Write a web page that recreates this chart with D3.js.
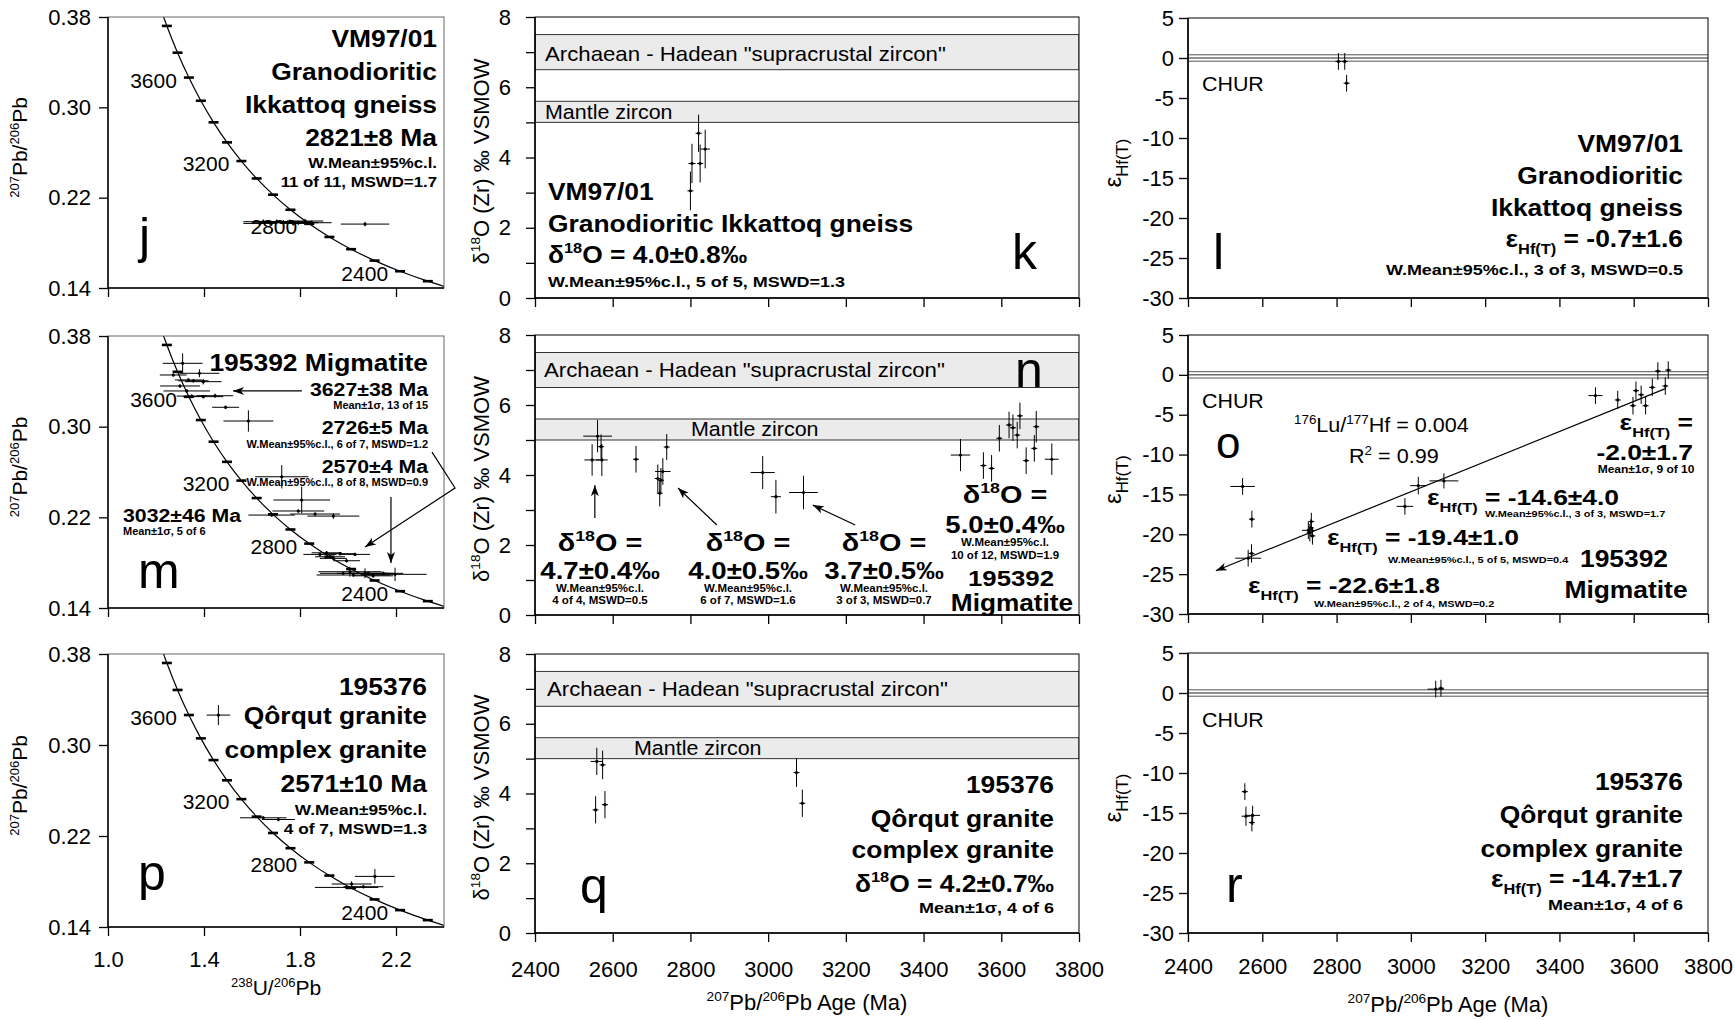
<!DOCTYPE html>
<html><head><meta charset="utf-8">
<script src="https://cdn.jsdelivr.net/npm/d3@7"></script>
<style>body{margin:0;background:#fff}svg{display:block;font-family:"Liberation Sans",Arial,sans-serif}</style>
</head><body><script>
// ================= DATA =================
const concordiaCurveAges = [2000,2100,2200,2300,2400,2500,2600,2700,2800,2900,3000,3100,3200,3300,3400,3500,3600,3700,3800,3900,4000];
const concordiaTickAges = [2300,2400,2500,2600,2700,2800,2900,3000,3100,3200,3300,3400,3500,3600,3700,3800];
const concordiaLabelAges = [2400,2800,3200,3600];
const uPbXTicks = [1.0,1.4,1.8,2.2];
const uPbYTicks = [0.38,0.30,0.22,0.14];
const ageTicks = [2400,2600,2800,3000,3200,3400,3600,3800];
const d18OTicks = [0,1,2,3,4,5,6,7,8];
const epsTicks = [5,0,-5,-10,-15,-20,-25,-30];
const supracrustalBand = [6.5,7.5];
const mantleBand = [5.0,5.6];
const churLines = [-0.4,0,0.4];

// Tera-Wasserburg points: [238U/206Pb, err, 207Pb/206Pb, err]
const jData = [[1.647,.083,.1987,.002],[1.675,.069,.1978,.002],[1.703,.076,.1987,.002],[1.731,.083,.1981,.002],
  [1.758,.090,.1987,.002],[1.793,.083,.1978,.002],[1.821,.076,.1993,.002],[1.849,.083,.1978,.002],
  [1.772,.056,.1972,.002],[1.633,.069,.1972,.002],[2.071,.101,.1966,.002]];
const mData = [[1.311,.083,.3559,.0088],[1.381,.083,.3471,.0035],[1.272,.056,.3456,.0015],[1.335,.056,.3412,.0015],
  [1.397,.076,.3397,.0024],[1.356,.063,.3405,.0015],[1.300,.083,.3359,.0015],[1.328,.097,.3315,.0015],
  [1.446,.076,.3273,.0018],[1.397,.083,.3265,.0015],[1.349,.063,.3270,.0015],[1.490,.056,.3171,.0015],
  [1.585,.104,.3050,.0094],[1.724,.111,.2558,.0103],[1.807,.118,.2353,.0118],[1.793,.108,.2256,.0015],
  [1.863,.104,.2229,.0015],[1.939,.108,.2211,.0024],[1.682,.097,.2220,.0015],[1.911,.0625,.1887,.0015],
  [2.029,.0625,.1873,.0015],[1.925,.0625,.1852,.0015],[1.883,.069,.1873,.0015],[1.967,.0625,.1879,.0015],
  [1.939,.056,.1838,.0015],[1.994,.056,.1817,.0015],[2.008,.132,.1720,.0044],[2.071,.118,.1706,.0044],
  [2.147,.083,.1706,.0015],[2.196,.132,.1697,.0059],[2.022,.153,.1691,.0015],[2.085,.083,.1706,.0015],
  [1.980,.097,.1706,.0015],[2.105,.083,.1684,.0015]];
const pData = [[1.46,.049,.3263,.0088],[1.647,.097,.2360,.0015],[1.71,.069,.2345,.0015],[2.112,.083,.1845,.0065],
  [1.994,.132,.1748,.0015],[2.015,.083,.1778,.0024],[2.064,.083,.1754,.0015]];

// oxygen points: [age, ageErr, d18O, err]
const kData = [[2800,4,3.05,.55],[2804,9,3.83,.56],[2825,8,3.83,.54],[2821,6,4.69,.53],[2838,12,4.24,.55]];
const nData = [[2547,20,4.43,.45],[2561,37,5.11,.46],[2570,4,4.81,.35],[2572,15,4.43,.46],[2660,4,4.45,.38],
  [2716,4,3.9,.4],[2721,4,3.48,.38],[2729,20,4.1,.38],[2739,5,4.8,.37],[2724,4,3.85,.35],
  [2986,31,4.07,.47],[3020,13,3.38,.48],[3091,37,3.5,.48],
  [3495,25,4.57,.46],[3554,4,4.27,.38],[3575,4,4.19,.38],[3595,4,5.05,.38],[3620,4,5.43,.38],[3630,4,5.35,.38],
  [3641,4,5.14,.38],[3648,4,5.69,.38],[3664,4,4.41,.38],[3685,4,4.76,.38],[3690,4,5.38,.45],[3730,18,4.45,.45]];
const qData = [[2559,16,4.92,.39],[2574,4,4.82,.41],[2556,4,3.53,.39],[2580,8,3.68,.39],[3073,4,4.6,.41],[3088,4,3.72,.39]];

// hafnium points: [age, ageErr, epsHf, err]
const lData = [[2805,4,-0.43,1.05],[2822,4,-0.43,1.05],[2827,8,-3.15,1.05]];
const oData = [[2547,33,-14.0,1.05],[2572,3,-18.1,1.05],[2562,35,-23.0,1.05],[2571,3,-22.4,1.15],
  [2724,17,-19.5,1.1],[2732,3,-18.4,1.1],[2735,3,-20.2,1.1],[2728,3,-19.8,1.1],[2731,3,-19.2,1.1],
  [2984,22,-16.5,1.05],[3020,22,-13.9,1.1],[3089,39,-13.3,.95],
  [3497,19,-2.6,1.05],[3557,3,-3.15,1.15],[3598,3,-3.87,1.1],[3606,3,-1.98,1.15],[3620,3,-2.5,1.15],
  [3632,3,-3.87,1.1],[3650,3,-1.57,1.1],[3665,3,0.48,1.1],[3685,3,-1.4,1.1],[3693,3,0.6,1.1]];
const rData = [[2553,4,-12.33,1.05],[2556,12,-15.4,1.2],[2574,20,-15.3,1.2],[2572,4,-16.2,1.1],[3067,22,0.48,1.05],[3081,4,0.6,1.05]];
const oRegression = [[3687,-1.69],[2475,-24.57]];

// annotation arrows (data units)
const mArrows = [[[1.808,.3315],[1.521,.3315]],[[2.35,.2776],[2.446,.2459],[2.071,.1938]],[[2.179,.238],[2.179,.1797]]];
const nArrows = [[[2554,2.77],[2554,3.71]],[[2868,2.57],[2768,3.63]],[[3224,2.57],[3115,3.14]]];

// ================= DRAW =================
const W=1735,H=1020;
const svg=d3.select('body').append('svg').attr('width',W).attr('height',H);
svg.append('rect').attr('width',W).attr('height',H).attr('fill','#fff');
const defs=svg.append('defs');
defs.append('marker').attr('id','arr').attr('markerUnits','userSpaceOnUse')
  .attr('markerWidth',12).attr('markerHeight',10).attr('refX',11).attr('refY',4).attr('orient','auto')
  .append('path').attr('d','M0,0 L11,4 L0,8 L3,4 Z').attr('fill','#000');

const L238=1.55125e-10,L235=9.8485e-10,U85=137.88;
function conc(t){const a=Math.exp(L238*t*1e6)-1,b=Math.exp(L235*t*1e6)-1;return [1/a,b/a/U85];}

function rich(g,x,y,str,o={}){
  const size=o.size||20;
  let tr=`translate(${x},${y})`; if(o.rot) tr+=` rotate(${o.rot})`; if(o.sx) tr+=` scale(${o.sx},1)`;
  const t=g.append('text').attr('transform',tr).attr('font-size',size)
    .attr('font-weight',o.bold?'bold':'normal').attr('text-anchor',o.anchor||'start').attr('fill','#000');
  const parts=str.split(/(\^\{[^}]*\}|_\{[^}]*\})/).filter(s=>s.length);
  let shift=0;
  parts.forEach(p=>{
    let k=null,s=p;
    if(p.startsWith('^{')){k='sup';s=p.slice(2,-1);} else if(p.startsWith('_{')){k='sub';s=p.slice(2,-1);}
    const target=k==='sup'?-0.4*size:k==='sub'?0.3*size:0;
    const ts=t.append('tspan').text(s).attr('dy',target-shift);
    if(k) ts.attr('font-size',size*(o.small||0.62));
    shift=target;
  });
  return t;
}

let clipN=0;
function panel(x0,x1,y0,y1,xDom,yDom){
  const g=svg.append('g');
  const x=d3.scaleLinear().domain(xDom).range([x0,x1]);
  const y=d3.scaleLinear().domain(yDom).range([y1,y0]);
  const id='c'+(clipN++);
  defs.append('clipPath').attr('id',id).append('rect').attr('x',x0).attr('y',y0).attr('width',x1-x0).attr('height',y1-y0);
  const inner=g.append('g').attr('clip-path',`url(#${id})`);
  return {g,inner,x,y,x0,x1,y0,y1};
}
function crosses(P,data,minH=3){
  const gg=P.inner.append('g').attr('stroke','#000').attr('stroke-width',1);
  data.forEach(d=>{
    const cx=P.x(d[0]),cy=P.y(d[2]);
    const hx=Math.max(Math.abs(P.x(d[0]+d[1])-cx),minH), hy=Math.max(Math.abs(P.y(d[2]+d[3])-cy),1.5);
    gg.append('line').attr('x1',cx-hx).attr('x2',cx+hx).attr('y1',cy).attr('y2',cy);
    gg.append('line').attr('x1',cx).attr('x2',cx).attr('y1',cy-hy).attr('y2',cy+hy);
    P.inner.append('circle').attr('cx',cx).attr('cy',cy).attr('r',1.6).attr('fill','#000');
  });
}
function axes(P,xt,yt,o){
  const ax=d3.axisBottom(P.x).tickValues(xt).tickSize(9).tickSizeOuter(0).tickPadding(o.xpad||16)
    .tickFormat(o.xlab?o.xfmt:()=> '');
  const ga=P.g.append('g').attr('transform',`translate(0,${P.y1})`).call(ax);
  const ay=d3.axisLeft(P.y).tickValues(yt).tickSize(9).tickSizeOuter(0).tickPadding(o.ypad||8)
    .tickFormat(o.yfmt);
  const gy=P.g.append('g').attr('transform',`translate(${P.x0},0)`).call(ay);
  [ga,gy].forEach(a=>{a.select('.domain').remove();
    a.selectAll('text').attr('font-size',22).attr('fill','#000').attr('font-family','"Liberation Sans",Arial,sans-serif');
    a.selectAll('line').attr('stroke','#000').attr('stroke-width',1.3);});
  P.g.append('rect').attr('x',P.x0).attr('y',P.y0).attr('width',P.x1-P.x0).attr('height',P.y1-P.y0)
    .attr('fill','none').attr('stroke',o.frame||'#000').attr('stroke-width',1);
  P.g.append('line').attr('x1',P.x0).attr('x2',P.x0).attr('y1',P.y0).attr('y2',P.y1).attr('stroke','#000').attr('stroke-width',1.5);
  P.g.append('line').attr('x1',P.x0).attr('x2',P.x1).attr('y1',P.y1).attr('y2',P.y1).attr('stroke','#000').attr('stroke-width',1.5);
}
function arrows(P,list){
  const line=d3.line().x(d=>P.x(d[0])).y(d=>P.y(d[1]));
  list.forEach(a=>P.g.append('path').attr('d',line(a)).attr('fill','none').attr('stroke','#000').attr('stroke-width',1.2).attr('marker-end','url(#arr)'));
}

// ---------- left column (Tera-Wasserburg) ----------
const leftRows=[[17,288],[336,608],[654,927]];
const leftData=[jData,mData,pData];
const leftP=leftRows.map((r,i)=>{
  const P=panel(108,444,r[0],r[1],[1.0,2.4],[0.14,0.38]);
  const line=d3.line().x(d=>P.x(conc(d)[0])).y(d=>P.y(conc(d)[1])).curve(d3.curveNatural);
  P.inner.append('path').attr('d',line(concordiaCurveAges)).attr('fill','none').attr('stroke','#000').attr('stroke-width',1.2);
  concordiaTickAges.forEach(t=>{const c=conc(t);
    P.inner.append('line').attr('x1',P.x(c[0])-5).attr('x2',P.x(c[0])+5).attr('y1',P.y(c[1])).attr('y2',P.y(c[1]))
      .attr('stroke','#000').attr('stroke-width',2.6);});
  crosses(P,leftData[i],2);
  concordiaLabelAges.forEach(t=>{const c=conc(t);
    rich(P.g,P.x(c[0])-12,P.y(c[1])+10,String(t),{size:20,anchor:'end',sx:1.05});});
  axes(P,uPbXTicks,uPbYTicks,{xlab:i===2,xfmt:d3.format('.1f'),yfmt:d3.format('.2f'),ypad:8,xpad:15,frame:'#666'});
  rich(svg,27,(r[0]+r[1])/2-5,'^{207}Pb/^{206}Pb',{size:21,rot:-90,anchor:'middle'});
  return P;
});
rich(svg,276,995,'^{238}U/^{206}Pb',{size:21,anchor:'middle'});
arrows(leftP[1],mArrows);

const TB={size:24,bold:true,sx:1.1};
// j
[['VM97/01',47],['Granodioritic',80],['Ikkattoq gneiss',113],['2821±8 Ma',146]].forEach(a=>rich(svg,437,a[1],a[0],{...TB,anchor:'end'}));
rich(svg,437,168,'W.Mean±95%c.l.',{size:14,bold:true,sx:1.2,anchor:'end'});
rich(svg,437,187,'11 of 11, MSWD=1.7',{size:14,bold:true,sx:1.2,anchor:'end'});
rich(svg,139,253,'j',{size:50});
// m
rich(svg,428,371,'195392 Migmatite',{...TB,anchor:'end'});
rich(svg,428,396,'3627±38 Ma',{size:19,bold:true,sx:1.12,anchor:'end'});
rich(svg,428,409,'Mean±1σ, 13 of 15',{size:10,bold:true,sx:1.1,anchor:'end'});
rich(svg,428,434,'2726±5 Ma',{size:19,bold:true,sx:1.12,anchor:'end'});
rich(svg,428,448,'W.Mean±95%c.l., 6 of 7, MSWD=1.2',{size:10,bold:true,sx:1.1,anchor:'end'});
rich(svg,428,473,'2570±4 Ma',{size:19,bold:true,sx:1.12,anchor:'end'});
rich(svg,428,486,'W.Mean±95%c.l., 8 of 8, MSWD=0.9',{size:10,bold:true,sx:1.1,anchor:'end'});
rich(svg,123,522,'3032±46 Ma',{size:19,bold:true,sx:1.12});
rich(svg,123,535,'Mean±1σ, 5 of 6',{size:10,bold:true,sx:1.1});
rich(svg,138,588,'m',{size:50});
// p
[['195376',695],['Qôrqut granite',724],['complex granite',758],['2571±10 Ma',792]].forEach(a=>rich(svg,427,a[1],a[0],{...TB,anchor:'end'}));
rich(svg,427,815,'W.Mean±95%c.l.',{size:15,bold:true,sx:1.15,anchor:'end'});
rich(svg,427,834,'4 of 7, MSWD=1.3',{size:15,bold:true,sx:1.15,anchor:'end'});
rich(svg,138,890,'p',{size:50});

// ---------- middle column (oxygen) ----------
const midRows=[[17,298],[335,615],[654,933]];
const midData=[kData,nData,qData];
const bandLabelPos=[[545,61,545,119],[544,377,691,436],[547,696,634,755]];
const midP=midRows.map((r,i)=>{
  const P=panel(535,1079,r[0],r[1],[2400,3800],[0,8]);
  [supracrustalBand,mantleBand].forEach(b=>P.inner.append('rect').attr('x',P.x0).attr('width',P.x1-P.x0)
    .attr('y',P.y(b[1])).attr('height',P.y(b[0])-P.y(b[1])).attr('fill','#ebebeb').attr('stroke','#333').attr('stroke-width',1));
  const bl=bandLabelPos[i];
  rich(P.g,bl[0],bl[1],'Archaean - Hadean "supracrustal zircon"',{size:20.2,sx:1.1});
  rich(P.g,bl[2],bl[3],'Mantle zircon',{size:19.5,sx:1.1});
  crosses(P,midData[i],3);
  axes(P,ageTicks,d18OTicks,{xlab:i===2,xfmt:d=>String(d),yfmt:d=>d%2===0?String(d):'',ypad:15,xpad:19});
  rich(svg,489,(r[0]+r[1])/2+4,'δ^{18}O (Zr) ‰ VSMOW',{size:22,rot:-90,anchor:'middle'});
  return P;
});
rich(svg,807,1010,'^{207}Pb/^{206}Pb Age (Ma)',{size:22,anchor:'middle'});
arrows(midP[1],nArrows);
// k
rich(svg,548,200,'VM97/01',TB);
rich(svg,548,232,'Granodioritic Ikkattoq gneiss',TB);
rich(svg,548,263,'δ^{18}O = 4.0±0.8‰',TB);
rich(svg,548,287,'W.Mean±95%c.l., 5 of 5, MSWD=1.3',{size:15,bold:true,sx:1.2});
rich(svg,1012,269,'k',{size:50});
// n
rich(svg,1015,387,'n',{size:50});
[[600,'4.7±0.4‰','4 of 4, MSWD=0.5'],[748,'4.0±0.5‰','6 of 7, MSWD=1.6'],[884,'3.7±0.5‰','3 of 3, MSWD=0.7']].forEach(a=>{
  rich(svg,a[0],551,'δ^{18}O =',{size:24,bold:true,sx:1.2,anchor:'middle'});
  rich(svg,a[0],579,a[1],{size:23,bold:true,sx:1.2,anchor:'middle'});
  rich(svg,a[0],591.5,'W.Mean±95%c.l.',{size:10,bold:true,sx:1.15,anchor:'middle'});
  rich(svg,a[0],603.5,a[2],{size:10,bold:true,sx:1.15,anchor:'middle'});
});
rich(svg,1005,503,'δ^{18}O =',{size:24,bold:true,sx:1.2,anchor:'middle'});
rich(svg,1005,533,'5.0±0.4‰',{size:23,bold:true,sx:1.2,anchor:'middle'});
rich(svg,1005,546,'W.Mean±95%c.l.',{size:10,bold:true,sx:1.15,anchor:'middle'});
rich(svg,1005,559,'10 of 12, MSWD=1.9',{size:10,bold:true,sx:1.15,anchor:'middle'});
rich(svg,1011,586,'195392',{size:23,bold:true,sx:1.12,anchor:'middle'});
rich(svg,1012,611,'Migmatite',{size:23,bold:true,sx:1.14,anchor:'middle'});
// q
[['195376',793],['Qôrqut granite',827],['complex granite',858],['δ^{18}O = 4.2±0.7‰',892]].forEach(a=>rich(svg,1054,a[1],a[0],{...TB,anchor:'end'}));
rich(svg,1054,913,'Mean±1σ, 4 of 6',{size:15,bold:true,sx:1.2,anchor:'end'});
rich(svg,580,903,'q',{size:50});

// ---------- right column (hafnium) ----------
const rightRows=[[18,298],[335,614],[653,933]];
const rightData=[lData,oData,rData];
const rightP=rightRows.map((r,i)=>{
  const P=panel(1188,1708,r[0],r[1],[2400,3800],[-30,5]);
  churLines.forEach(v=>P.inner.append('line').attr('x1',P.x0).attr('x2',P.x1).attr('y1',P.y(v)).attr('y2',P.y(v))
    .attr('stroke',v===0?'#222':'#555').attr('stroke-width',1));
  crosses(P,rightData[i],3);
  axes(P,ageTicks,epsTicks,{xlab:i===2,xfmt:d=>String(d),yfmt:d=>String(d),ypad:5,xpad:16});
  rich(svg,1121,(r[0]+r[1])/2+5,'ε_{Hf(T)}',{size:24,rot:-90,anchor:'middle',small:0.7});
  return P;
});
rich(svg,1448,1012,'^{207}Pb/^{206}Pb Age (Ma)',{size:22,anchor:'middle'});
{
  const P=rightP[1];
  const line=d3.line().x(d=>P.x(d[0])).y(d=>P.y(d[1]));
  P.g.append('path').attr('d',line(oRegression)).attr('stroke','#000').attr('stroke-width',1.2).attr('fill','none').attr('marker-end','url(#arr)');
}
[[91],[408],[727]].forEach(a=>rich(svg,1202,a[0],'CHUR',{size:20,sx:1.07}));
// l
[['VM97/01',152],['Granodioritic',184],['Ikkattoq gneiss',216],['ε_{Hf(T)} = -0.7±1.6',247]].forEach(a=>rich(svg,1683,a[1],a[0],{...TB,anchor:'end'}));
rich(svg,1683,275,'W.Mean±95%c.l., 3 of 3, MSWD=0.5',{size:15,bold:true,sx:1.2,anchor:'end'});
rich(svg,1213,269,'l',{size:50});
// o
rich(svg,1216,458,'o',{size:44});
rich(svg,1294,432,'^{176}Lu/^{177}Hf = 0.004',{size:20,sx:1.08});
rich(svg,1349,463,'R^{2} = 0.99',{size:20,sx:1.08});
rich(svg,1693,430,'ε_{Hf(T)} =',{size:22,bold:true,sx:1.2,anchor:'end'});
rich(svg,1693,460,'-2.0±1.7',{size:22,bold:true,sx:1.2,anchor:'end'});
rich(svg,1646,473,'Mean±1σ, 9 of 10',{size:10,bold:true,sx:1.2,anchor:'middle'});
rich(svg,1427,505,'ε_{Hf(T)} = -14.6±4.0',{size:22,bold:true,sx:1.2});
rich(svg,1485,517,'W.Mean±95%c.l., 3 of 3, MSWD=1.7',{size:9.5,bold:true,sx:1.15});
rich(svg,1327,545,'ε_{Hf(T)} = -19.4±1.0',{size:22,bold:true,sx:1.2});
rich(svg,1388,563,'W.Mean±95%c.l., 5 of 5, MSWD=0.4',{size:9.5,bold:true,sx:1.15});
rich(svg,1248,593,'ε_{Hf(T)} = -22.6±1.8',{size:22,bold:true,sx:1.2});
rich(svg,1314,607,'W.Mean±95%c.l., 2 of 4, MSWD=0.2',{size:9.5,bold:true,sx:1.15});
rich(svg,1624,567,'195392',{...TB,anchor:'middle'});
rich(svg,1626,598,'Migmatite',{...TB,anchor:'middle'});
// r
[['195376',790],['Qôrqut granite',823],['complex granite',857],['ε_{Hf(T)} = -14.7±1.7',887]].forEach(a=>rich(svg,1683,a[1],a[0],{...TB,anchor:'end'}));
rich(svg,1683,910,'Mean±1σ, 4 of 6',{size:15,bold:true,sx:1.2,anchor:'end'});
rich(svg,1226,902,'r',{size:50});
</script></body></html>
